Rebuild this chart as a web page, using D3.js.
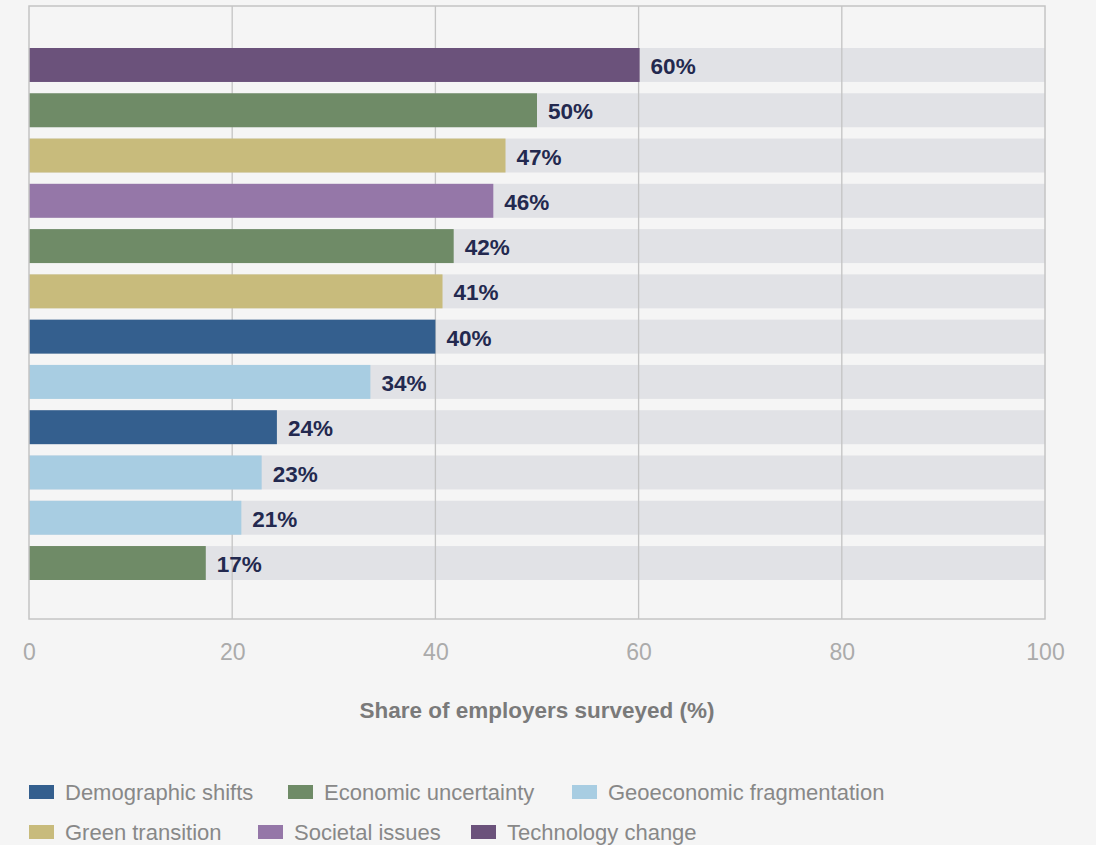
<!DOCTYPE html>
<html>
<head>
<meta charset="utf-8">
<script src="https://cdn.jsdelivr.net/npm/d3@7"></script>
<style>
  html, body { margin: 0; padding: 0; background: #f5f5f5; }
  svg { display: block; }
</style>
</head>
<body>
<svg id="chart" width="1096" height="845"></svg>
<script>
// ---- Data ----
const categories = ["r1","r2","r3","r4","r5","r6","r7","r8","r9","r10","r11","r12"];
const groups = [
  "Technology change","Economic uncertainty","Green transition","Societal issues",
  "Economic uncertainty","Green transition","Demographic shifts","Geoeconomic fragmentation",
  "Demographic shifts","Geoeconomic fragmentation","Geoeconomic fragmentation","Economic uncertainty"
];
const values = [60.1, 50.0, 46.9, 45.7, 41.8, 40.7, 40.0, 33.6, 24.4, 22.9, 20.9, 17.4];
const valueLabels = ["60%","50%","47%","46%","42%","41%","40%","34%","24%","23%","21%","17%"];
const xTicks = [0, 20, 40, 60, 80, 100];
const legendItems = [
  "Demographic shifts","Economic uncertainty","Geoeconomic fragmentation",
  "Green transition","Societal issues","Technology change"
];
const legendColors = ["#345f8e","#6f8b67","#a8cde2","#c8bb7c","#9577a8","#6b527b"];
const axisTitle = "Share of employers surveyed (%)";

// ---- Layout ----
const FONT = "Liberation Sans, Arial, sans-serif";
const svg = d3.select("#chart");
const plot = { left: 29, right: 1045, top: 6, bottom: 619 };
const color = d3.scaleOrdinal().domain(legendItems).range(legendColors);

const x = d3.scaleLinear().domain([0, 100]).range([plot.left, plot.right]);
const y = d3.scaleBand().domain(categories)
  .range([48, 580])
  .paddingInner(0.25).paddingOuter(0);

// track bars
svg.append("g").selectAll("rect").data(categories).join("rect")
  .attr("x", x(0)).attr("y", d => y(d))
  .attr("width", x(100) - x(0)).attr("height", y.bandwidth())
  .attr("fill", "#e1e2e6");

// gridlines
svg.append("g").selectAll("line").data(xTicks.filter(t => t > 0 && t < 100)).join("line")
  .attr("x1", d => x(d)).attr("x2", d => x(d))
  .attr("y1", plot.top).attr("y2", plot.bottom)
  .attr("stroke", "#c4c4c4").attr("stroke-width", 1.3);

// bars
svg.append("g").selectAll("rect").data(categories).join("rect")
  .attr("x", x(0)).attr("y", d => y(d))
  .attr("width", (d, i) => x(values[i]) - x(0)).attr("height", y.bandwidth())
  .attr("fill", (d, i) => color(groups[i]));

// frame border
svg.append("rect")
  .attr("x", plot.left).attr("y", plot.top)
  .attr("width", plot.right - plot.left).attr("height", plot.bottom - plot.top)
  .attr("fill", "none").attr("stroke", "#c4c4c4").attr("stroke-width", 1.5);

// value labels
svg.append("g").selectAll("text").data(categories).join("text")
  .attr("x", (d, i) => x(values[i]) + 11)
  .attr("y", d => y(d) + y.bandwidth() / 2 + 1)
  .attr("dy", "0.36em")
  .attr("font-family", FONT)
  .attr("font-weight", "bold").attr("font-size", 22.5)
  .attr("fill", "#23294f")
  .text((d, i) => valueLabels[i]);

// x axis
const xAxis = d3.axisBottom(x).tickValues(xTicks).tickSize(0).tickPadding(0).tickFormat(d3.format("d"));
const gx = svg.append("g").attr("transform", `translate(0, ${plot.bottom + 41})`).call(xAxis);
gx.select(".domain").remove();
gx.selectAll("text")
  .attr("font-family", FONT)
  .attr("font-size", 23).attr("fill", "#ababab").attr("dy", 0);

// axis title
svg.append("text")
  .attr("x", (plot.left + plot.right) / 2).attr("y", 718)
  .attr("text-anchor", "middle")
  .attr("font-family", FONT)
  .attr("font-weight", "bold").attr("font-size", 22.5)
  .attr("fill", "#7a7a7a")
  .text(axisTitle);

// legend
const legendPos = [
  { x: 29, y: 792 }, { x: 288, y: 792 }, { x: 572, y: 792 },
  { x: 29, y: 832 }, { x: 258, y: 832 }, { x: 471, y: 832 }
];
const lg = svg.append("g").selectAll("g").data(legendItems).join("g")
  .attr("transform", (d, i) => `translate(${legendPos[i].x}, ${legendPos[i].y})`);
lg.append("rect").attr("x", 0).attr("y", -7).attr("width", 25).attr("height", 14)
  .attr("fill", d => color(d));
lg.append("text").attr("x", 36).attr("dy", "0.36em")
  .attr("font-family", FONT)
  .attr("font-size", 22).attr("fill", "#888888")
  .text(d => d);
</script>
</body>
</html>
